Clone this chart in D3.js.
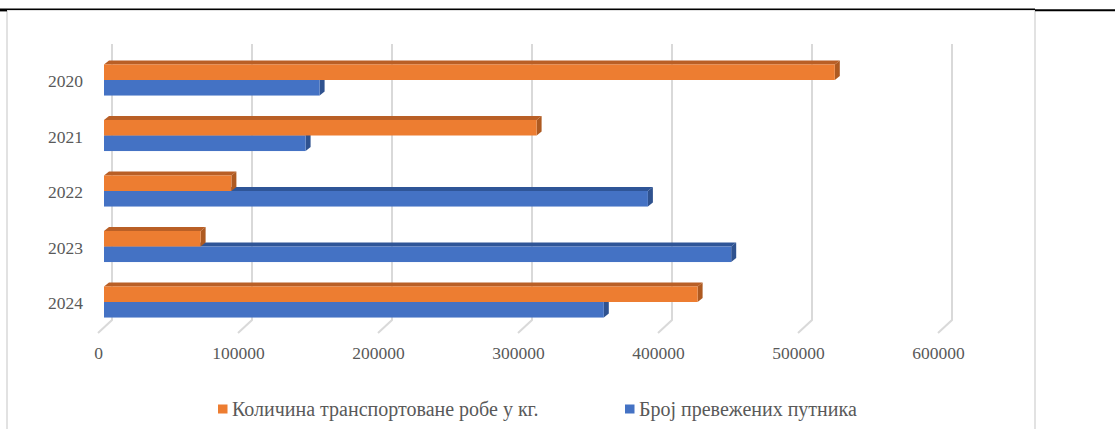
<!DOCTYPE html>
<html>
<head>
<meta charset="utf-8">
<script src="https://cdn.jsdelivr.net/npm/d3@7"></script>
<style>
  html, body { margin: 0; padding: 0; background: #ffffff; }
  svg { display: block; }
</style>
</head>
<body>
<svg id="chart" width="1115" height="429"></svg>
<script>
// Годишњи подаци
const years = ["2020", "2021", "2022", "2023", "2024"];
const cargoKg = [522000, 309000, 91000, 69000, 424000];        // Количина транспортоване робе у кг.
const passengers = [154000, 144000, 388500, 448000, 357000];   // Број превежених путника
const xTicks = [0, 100000, 200000, 300000, 400000, 500000, 600000];
const seriesNames = ["Количина транспортоване робе у кг.", "Број превежених путника"];

const W = 1115, H = 429;
const FONT = "'Liberation Serif'";
const TEXT = "#595959";
const svg = d3.select("#chart");

// Outer frame and rule lines
svg.append("rect").attr("x", 7).attr("y", 10).attr("width", 1028).attr("height", 440)
  .attr("fill", "#fff").attr("stroke", "#d9d9d9").attr("stroke-width", 1.5);
svg.append("line").attr("x1", 0).attr("x2", 1035).attr("y1", 9.3).attr("y2", 9.3)
  .attr("stroke", "#000").attr("stroke-width", 1.6);
svg.append("line").attr("x1", 0).attr("x2", 7).attr("y1", 10.6).attr("y2", 10.6)
  .attr("stroke", "#000").attr("stroke-width", 1.6);
svg.append("line").attr("x1", 1035).attr("x2", W).attr("y1", 10.3).attr("y2", 10.3)
  .attr("stroke", "#000").attr("stroke-width", 2);

// Scales: front plane of the bars; 3D depth offset
const depthX = 5, depthY = -4;
const x = d3.scaleLinear().domain([0, 600000]).range([104, 944]);
const y = d3.scaleBand().domain(years).range([52.25, 329.75]).paddingInner(0.44).paddingOuter(0.22);
const sub = d3.scaleBand().domain(["cargo", "pass"]).range([0, y.bandwidth()]);

// Back-wall gridlines with floor diagonals
const grid = svg.append("g").attr("fill", "none").attr("stroke", "#d9d9d9").attr("stroke-width", 2);
xTicks.forEach(t => {
  const xb = x(t) + 8;
  grid.append("path").attr("d", `M${xb},44 L${xb},320 L${x(t) - 6},333`);
});

// Value axis labels on the floor's front edge
const xLab = d3.scaleLinear().domain([0, 600000]).range([98, 938]);
const xAxis = svg.append("g").attr("transform", "translate(0,347)")
  .call(d3.axisBottom(xLab).tickValues(xTicks).tickSize(0).tickPadding(0).tickFormat(d3.format("d")));
xAxis.select(".domain").remove();
xAxis.selectAll("text")
  .style("font-family", FONT).style("font-size", "17.5px").attr("fill", TEXT);

// Category axis
const yAxis = svg.append("g").attr("transform", "translate(83,0)")
  .call(d3.axisLeft(y).tickSize(0).tickPadding(0));
yAxis.select(".domain").remove();
yAxis.selectAll("text")
  .style("font-family", FONT).style("font-size", "17.5px").attr("fill", TEXT).attr("dy", "0.42em");

// 3D bar: front face, top face, right side face
function bar3d(g, x0, x1, y0, h, front, shade, topShade) {
  g.append("path").attr("fill", topShade)
    .attr("d", `M${x0},${y0} L${x0 + depthX},${y0 + depthY} L${x1 + depthX},${y0 + depthY} L${x1},${y0} Z`);
  g.append("path").attr("fill", shade)
    .attr("d", `M${x1},${y0} L${x1 + depthX},${y0 + depthY} L${x1 + depthX},${y0 + h + depthY} L${x1},${y0 + h} Z`);
  g.append("rect").attr("x", x0).attr("y", y0).attr("width", x1 - x0).attr("height", h).attr("fill", front);
}

const bars = svg.append("g");
years.forEach((yr, i) => {
  const g = bars.append("g");
  // passenger bar (lower) first, cargo bar drawn over it
  bar3d(g, x(0), x(passengers[i]), y(yr) + sub("pass"), sub.bandwidth(), "#4472c4", "#2f528f", "#2f5597");
  bar3d(g, x(0), x(cargoKg[i]), y(yr) + sub("cargo"), sub.bandwidth(), "#ed7d31", "#ae5a21", "#b95f26");
});

// Legend
const legend = svg.append("g");
const legendItems = [
  { name: seriesNames[0], color: "#ed7d31", x: 218 },
  { name: seriesNames[1], color: "#4472c4", x: 625 }
];
legendItems.forEach(it => {
  legend.append("rect").attr("x", it.x).attr("y", 404.5).attr("width", 9.5).attr("height", 9)
    .attr("fill", it.color);
  legend.append("text").attr("x", it.x + 14).attr("y", 416)
    .style("font-family", FONT).style("font-size", "20px").attr("fill", TEXT).text(it.name);
});
</script>
</body>
</html>
